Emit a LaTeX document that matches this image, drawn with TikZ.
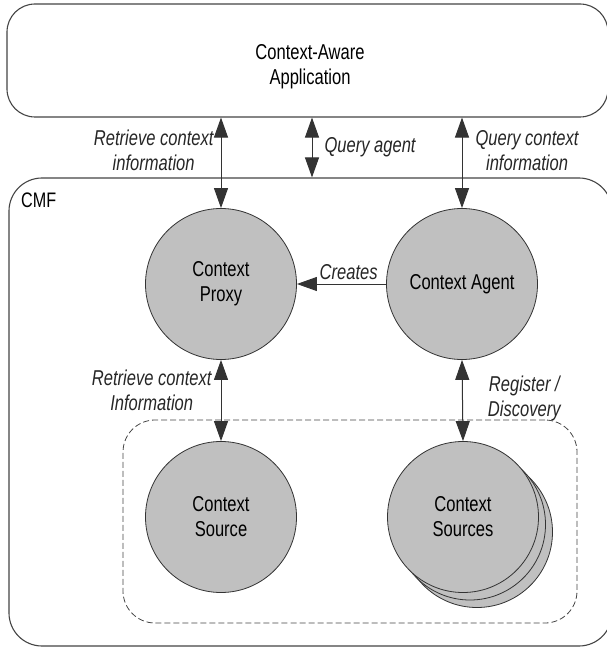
\documentclass[tikz,border=0pt]{standalone}
\usepackage{fontspec}
\setmainfont{Liberation Sans}[FakeStretch=0.77]
\usetikzlibrary{arrows.meta,positioning}

\definecolor{circfill}{HTML}{C0C0C0}
\definecolor{edgegray}{HTML}{333333}
\definecolor{boxgray}{HTML}{444444}

\tikzset{
  ctxnode/.style={circle, draw=edgegray, fill=circfill, line width=0.8pt,
    minimum size=151pt, inner sep=0pt, align=center,
    font=\fontsize{21.5}{25}\selectfont},
  framebox/.style={rectangle, draw=boxgray, line width=1.1pt, inner sep=0pt},
  lbl/.style={font=\fontsize{21.5}{25}\selectfont\itshape, align=center,
    inner sep=0pt, text=black!85},
  dbl/.style={arrows={Triangle[length=20pt,width=14pt]-Triangle[length=20pt,width=14pt]},
    draw=edgegray, line width=1pt},
  sgl/.style={arrows={-Triangle[length=20pt,width=14pt]}, draw=edgegray, line width=1pt}
}

\begin{document}
\begin{tikzpicture}[x=1pt, y=-1pt]
  \useasboundingbox (0,0) rectangle (606,647);
  % application and framework frames
  \node[framebox, rounded corners=28pt, minimum width=601pt, minimum height=113pt] (app) at (307.5,60.5) {};
  \node[font=\fontsize{21.5}{25}\selectfont, align=center] (apptitle) at (310,67) {Context-Aware\\Application};
  \node[framebox, rounded corners=33pt, minimum width=603pt, minimum height=468pt] (cmf) at (310.5,412) {};
  \node[font=\fontsize{21}{25}\selectfont, anchor=base west, inner sep=0pt] (cmflabel) at (21,207) {CMF};
  % group of sources
  \node[rectangle, draw=boxgray, dashed, dash pattern=on 6pt off 3pt, line width=0.8pt,
    rounded corners=32pt, minimum width=454pt, minimum height=203pt] (srcgroup) at (350,521.5) {};
  % circles
  \node[ctxnode] (proxy) at (221,284) {Context\\Proxy};
  \node[ctxnode] (agent) at (462,284) {Context Agent};
  \node[ctxnode] (source) at (221,517) {Context\\Source};
  \node[ctxnode] (srcback2) at (477,532) {};
  \node[ctxnode] (srcback1) at (470,524.5) {};
  \node[ctxnode] (sources) at (463,517) {Context\\Sources};
  % helper for the middle arrow
  \coordinate (qa) at (312,0);
  % connectors
  \draw[dbl] (proxy |- app.south) -- (proxy.north)
    node[lbl, pos=0.36, left=7pt] (retrtop) {Retrieve context\\information};
  \draw[dbl] (app.south -| qa) -- (cmf.north -| qa)
    node[lbl, midway, right=12pt] (qagent) {Query agent};
  \draw[dbl] (agent |- app.south) -- (agent.north)
    node[lbl, pos=0.37, right=13pt] (qctx) {Query context\\information};
  \draw[sgl] (agent.west) -- (proxy.east)
    node[lbl, pos=0.42, above=4pt] (creates) {Creates};
  \draw[dbl] (proxy.south) -- (source.north)
    node[lbl, pos=0.37, left=9pt] (retrlow) {Retrieve context\\Information};
  \draw[dbl] (agent.south) -- (sources.north)
    node[lbl, pos=0.48, right=25pt] (regdisc) {Register /\\Discovery};
\end{tikzpicture}
\end{document}
